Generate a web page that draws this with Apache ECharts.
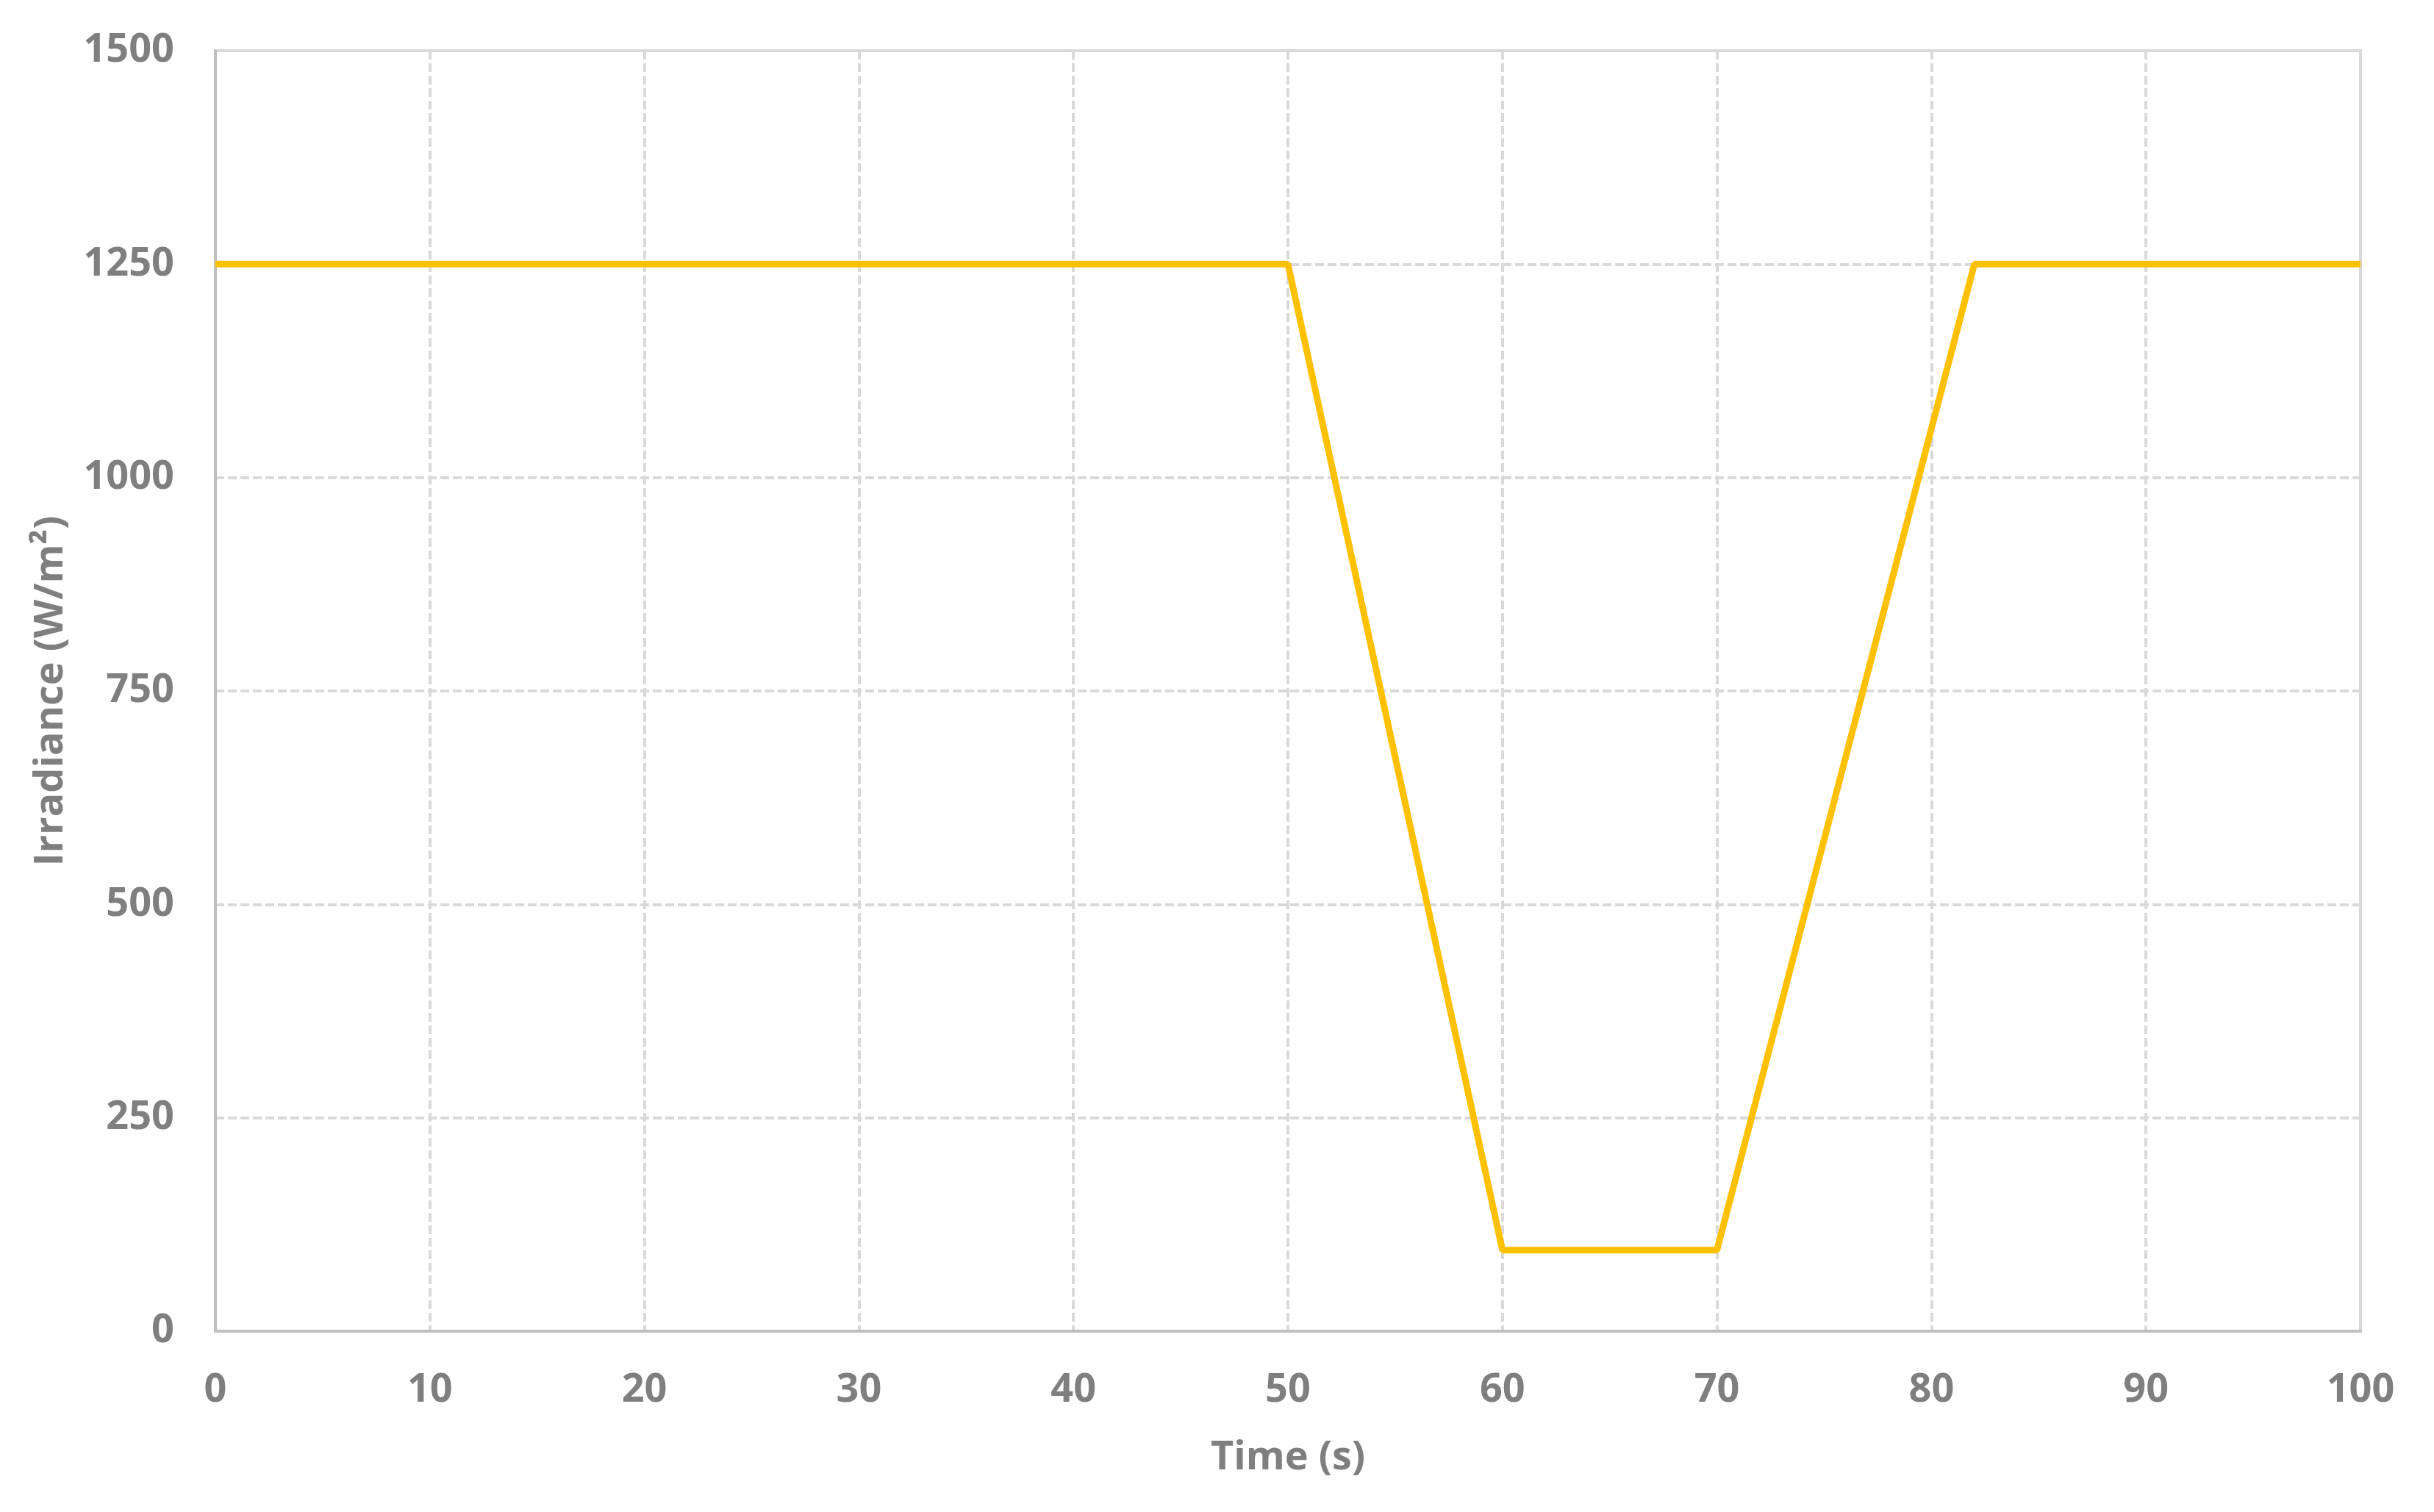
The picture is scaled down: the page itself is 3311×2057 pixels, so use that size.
<!DOCTYPE html>
<html>
<head>
<meta charset="utf-8">
<script src="https://cdn.jsdelivr.net/npm/echarts@6/dist/echarts.min.js"></script>
<style>
html, body { margin: 0; padding: 0; background: #fff; }
#main { width: 3311px; height: 2057px; }
</style>
</head>
<body>
<div id="main"></div>
<script>
// irradiance profile
var timeSec = [0, 50, 60, 70, 82, 100];
var irradiance = [1250, 1250, 95, 95, 1250, 1250];

var xTicks = [0, 100, 10];      // min, max, step
var yTicks = [0, 1500, 250];

var points = timeSec.map(function (t, i) { return [t, irradiance[i]]; });

var grey = '#7f7f7f';
var labelFont = { color: grey, fontFamily: 'Open Sans', fontWeight: 'bold', fontSize: 54 };

var myChart = echarts.init(document.getElementById('main'));
myChart.setOption({
  animation: false,
  backgroundColor: '#fff',
  grid: {
    left: 293, right: 100, top: 69, bottom: 246,
    show: true, borderColor: '#d9d9d9', borderWidth: 4
  },
  xAxis: {
    type: 'value',
    min: xTicks[0], max: xTicks[1], interval: xTicks[2],
    name: 'Time (s)',
    nameLocation: 'middle',
    nameGap: 146,
    nameTextStyle: labelFont,
    axisLine: { lineStyle: { color: '#bfbfbf', width: 4 } },
    axisTick: { show: false },
    axisLabel: Object.assign({ margin: 54, formatter: function (v) { return String(v); } }, labelFont),
    splitLine: { lineStyle: { color: '#d9d9d9', width: 4, type: [12, 5] } }
  },
  yAxis: {
    type: 'value',
    min: yTicks[0], max: yTicks[1], interval: yTicks[2],
    name: 'Irradiance (W/m²)',
    nameLocation: 'middle',
    nameGap: 196,
    nameTextStyle: labelFont,
    axisLine: { show: true, lineStyle: { color: '#bfbfbf', width: 4 } },
    axisTick: { show: false },
    axisLabel: Object.assign({ margin: 56, formatter: function (v) { return String(v); } }, labelFont),
    splitLine: { lineStyle: { color: '#d9d9d9', width: 4, type: [12, 5] } }
  },
  series: [{
    name: 'Irradiance',
    type: 'line',
    data: points,
    showSymbol: false,
    lineStyle: { color: '#ffc000', width: 9 }
  }]
});
</script>
</body>
</html>
